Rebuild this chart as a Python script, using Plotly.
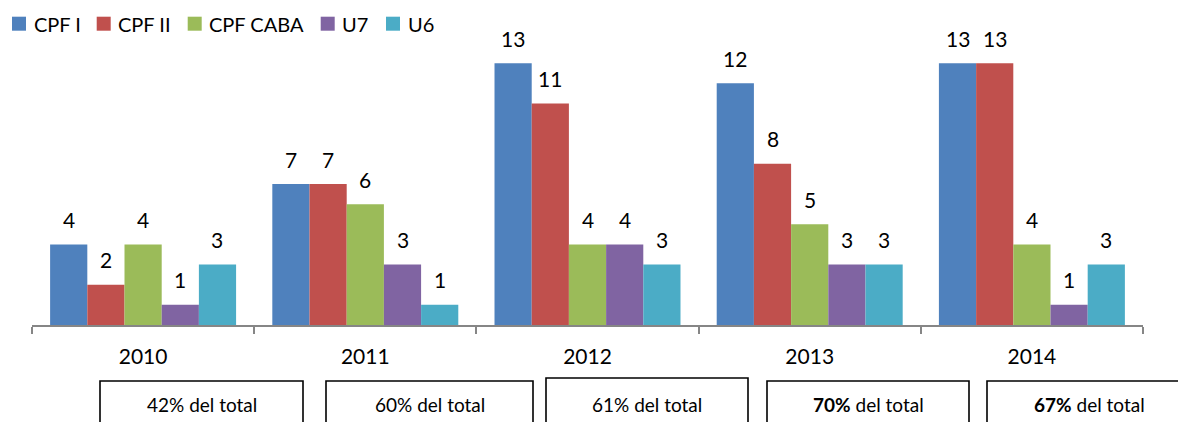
import plotly.graph_objects as go

# ---- data ----
years = ["2010", "2011", "2012", "2013", "2014"]
series_names = ["CPF I", "CPF II", "CPF CABA", "U7", "U6"]
cpf1 = [4, 7, 13, 12, 13]
cpf2 = [2, 7, 11, 8, 13]
cpf_caba = [4, 6, 4, 5, 4]
u7 = [1, 3, 4, 3, 1]
u6 = [3, 1, 3, 3, 3]
series_values = [cpf1, cpf2, cpf_caba, u7, u6]
pct_total = [42, 60, 61, 70, 67]
pct_bold = [False, False, False, True, True]

# ---- styles ----
colors = ["#4F81BD", "#C0504D", "#9BBB59", "#8064A2", "#4BACC6"]
FONT = "Lato, Carlito, Calibri, sans-serif"
W, H = 1178, 422
ML, MR, MT, MB = 32, 35, 43, 97
PW, PH = W - ML - MR, H - MT - MB
BARGAP = 0.163
YMAX = 14


def px2x(px):
    return (px - ML) / PW


def py2y(py):
    return (H - MB - py) / PH


fig = go.Figure()
for name, vals, col in zip(series_names, series_values, colors):
    fig.add_trace(go.Bar(
        x=list(range(len(years))), y=vals, name=name,
        marker=dict(color=col, line=dict(width=0)),
        showlegend=False, hoverinfo="x+y+name",
    ))

annotations = []
shapes = []

# data labels
n = len(series_names)
bw = (1 - BARGAP) / n
for j, vals in enumerate(series_values):
    for i, v in enumerate(vals):
        annotations.append(dict(
            x=i - (1 - BARGAP) / 2 + (j + 0.5) * bw, y=v, xref="x", yref="y",
            text=str(v), showarrow=False, yanchor="middle", yshift=25,
            font=dict(family=FONT, size=21, color="#000000"),
        ))

# legend (manual)
leg_sq_px = [12, 96.7, 187.7, 320.7, 386]
leg_y_top, leg_y_bot = 16.7, 30.7
for name, col, sx in zip(series_names, colors, leg_sq_px):
    shapes.append(dict(
        type="rect", xref="paper", yref="paper",
        x0=px2x(sx), x1=px2x(sx + 14), y0=py2y(leg_y_bot), y1=py2y(leg_y_top),
        fillcolor=col, line=dict(width=0),
    ))
    annotations.append(dict(
        x=px2x(sx + 19.5), y=py2y((leg_y_top + leg_y_bot) / 2), xref="paper", yref="paper",
        text=name, showarrow=False, xanchor="left", yanchor="middle",
        font=dict(family=FONT, size=20, color="#000000"),
    ))

# percentage boxes
box_px = [(100, 303, 381), (326, 533, 381), (546, 748, 378), (767, 969, 381), (987, 1400, 381)]
for (x0, x1, top), p, b in zip(box_px, pct_total, pct_bold):
    shapes.append(dict(
        type="rect", xref="paper", yref="paper",
        x0=px2x(x0), x1=px2x(x1), y0=py2y(440), y1=py2y(top),
        line=dict(color="#000000", width=1.6), fillcolor="rgba(0,0,0,0)",
    ))
    label = (f"<b>{p}%</b> del total" if b else f"{p}% del total")
    cx = (x0 + x1) / 2 if x1 <= W else x0 + 102
    annotations.append(dict(
        x=px2x(cx), y=py2y(404), xref="paper", yref="paper",
        text=label, showarrow=False, xanchor="center", yanchor="middle",
        font=dict(family=FONT, size=19, color="#000000"),
    ))

fig.update_layout(
    width=W, height=H,
    margin=dict(l=ML, r=MR, t=MT, b=MB, pad=0),
    barmode="group", bargap=BARGAP, bargroupgap=0,
    plot_bgcolor="white", paper_bgcolor="white",
    showlegend=False,
    xaxis=dict(
        type="category", range=[-0.5, len(years) - 0.5],
        tickmode="array", tickvals=list(range(len(years))), ticktext=years,
        tickson="boundaries", ticks="outside", ticklen=7, tickcolor="#868686", tickwidth=1.5,
        showline=True, linecolor="#868686", linewidth=1.5,
        showgrid=False, zeroline=False, ticklabelstandoff=12,
        tickfont=dict(family=FONT, size=21, color="#000000"),
    ),
    yaxis=dict(range=[0, YMAX], visible=False, showgrid=False, zeroline=False),
    shapes=shapes, annotations=annotations,
    font=dict(family=FONT),
)

fig.write_html(
    "out.html",
    config={"displayModeBar": False},
    post_script="document.body.style.margin='0px';document.body.style.overflow='hidden';",
)
